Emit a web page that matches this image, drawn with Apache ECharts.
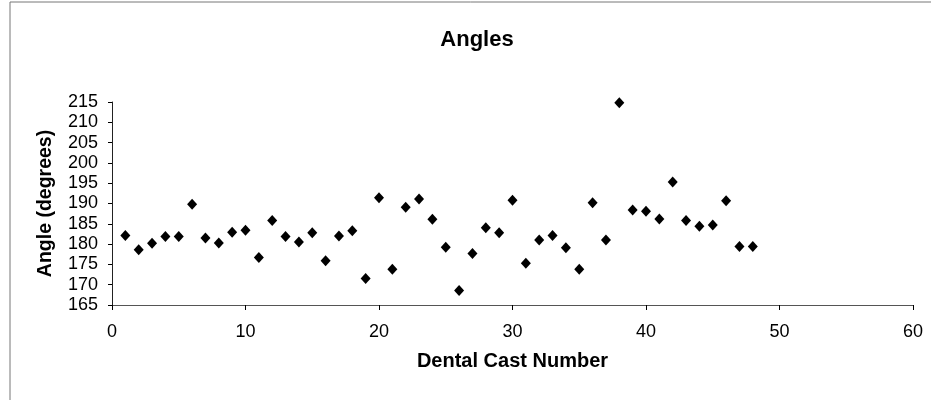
<!DOCTYPE html>
<html>
<head>
<meta charset="utf-8">
<script src="https://cdn.jsdelivr.net/npm/echarts@6/dist/echarts.min.js"></script>
<style>
    html, body {margin:0;padding:0;background:#fff;}
    #chart {width:931px;height:400px;}
</style>
</head>
<body>
<div id="chart"></div>
<script>
    // cast numbers 1..48 and measured angle
    var castNumbers = [1,2,3,4,5,6,7,8,9,10,11,12,13,14,15,16,17,18,19,20,21,22,23,24,
                       25,26,27,28,29,30,31,32,33,34,35,36,37,38,39,40,41,42,43,44,45,46,47,48];
    var angles = [182.1,178.6,180.2,181.9,181.9,189.8,181.5,180.3,182.9,183.4,176.7,185.8,
                  181.9,180.5,182.8,175.9,182.0,183.3,171.5,191.4,173.8,189.1,191.1,186.1,
                  179.2,168.6,177.7,184.0,182.8,190.8,175.3,181.0,182.1,179.1,173.8,190.2,
                  181.0,214.8,188.4,188.1,186.2,195.3,185.8,184.4,184.7,190.7,179.4,179.4];

    var points = castNumbers.map(function (n, i) { return [n, angles[i]]; });

    var chart = echarts.init(document.getElementById('chart'));
    var option = {
        animation: false,
        backgroundColor: '#fff',
        title: {
            text: 'Angles',
            left: 472,
            top: 24,
            textAlign: 'center',
            textStyle: {fontFamily: 'Liberation Sans', fontSize: 22, fontWeight: 'bold', color: '#000'}
        },
        graphic: [
            {type: 'line', shape: {x1: 10, y1: 2, x2: 931, y2: 2}, style: {stroke: '#777', lineWidth: 1}},
            {type: 'line', shape: {x1: 10, y1: 2, x2: 10, y2: 400}, style: {stroke: '#777', lineWidth: 1}}
        ],
        grid: {left: 112, right: 18, top: 102, bottom: 95},
        xAxis: {
            type: 'value',
            min: 0, max: 60, interval: 10,
            name: 'Dental Cast Number',
            nameLocation: 'middle',
            nameGap: 46,
            nameTextStyle: {fontFamily: 'Liberation Sans', fontSize: 20, fontWeight: 'bold', color: '#000'},
            axisLine: {lineStyle: {color: '#555', width: 1}},
            axisTick: {show: true, length: 5, lineStyle: {color: '#000'}},
            axisLabel: {fontFamily: 'Liberation Sans', fontSize: 18, color: '#000', margin: 18},
            splitLine: {show: false}
        },
        yAxis: {
            type: 'value',
            min: 165, max: 215, interval: 5,
            name: 'Angle (degrees)',
            nameLocation: 'middle',
            nameGap: 56,
            nameTextStyle: {fontFamily: 'Liberation Sans', fontSize: 19.5, fontWeight: 'bold', color: '#000'},
            axisLine: {show: true, lineStyle: {color: '#222', width: 1}},
            axisTick: {show: true, length: 4, lineStyle: {color: '#000'}},
            axisLabel: {fontFamily: 'Liberation Sans', fontSize: 18, color: '#000', margin: 14},
            splitLine: {show: false}
        },
        series: [{
            type: 'scatter',
            data: points,
            symbol: 'diamond',
            symbolSize: [10, 11],
            itemStyle: {color: '#000', opacity: 1}
        }]
    };
    chart.setOption(option);
</script>
</body>
</html>
